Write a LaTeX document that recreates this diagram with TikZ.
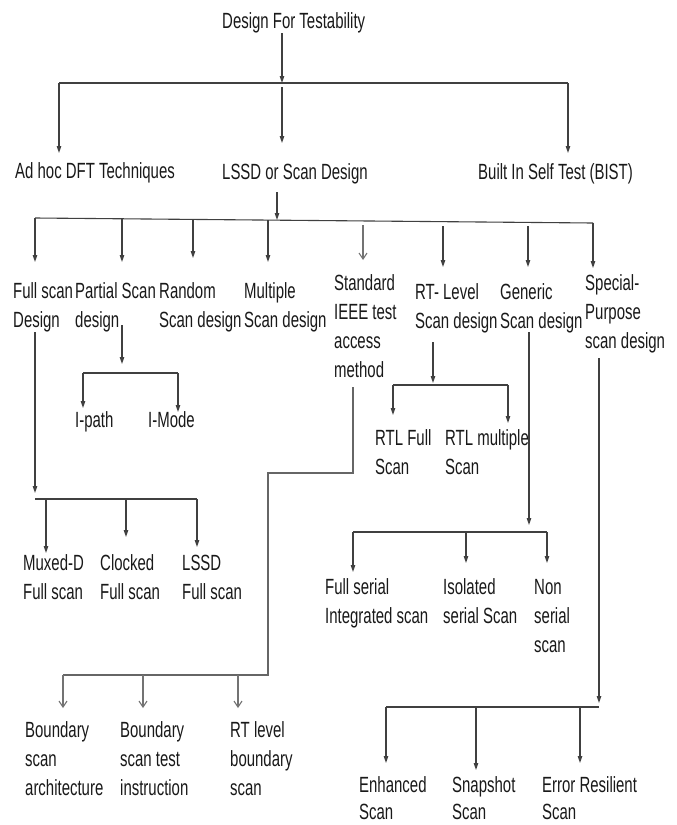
\documentclass[tikz,border=0pt]{standalone}
\usepackage{fontspec}
\setmainfont{Liberation Sans}[FakeStretch=0.68]
\usetikzlibrary{arrows.meta}
\begin{document}
\begin{tikzpicture}[x=1pt,y=-1pt,
  lbl/.style={anchor=north west, inner sep=0pt, align=left, text=black!90,
              font=\fontsize{22}{29}\selectfont},
  lblb/.style={lbl, font=\fontsize{22}{27}\selectfont},
  wire/.style={draw=black!75, line width=1.1pt},
  arr/.style={wire, -{Triangle[length=7pt,width=4.5pt]}},
  openarr/.style={draw=black!55, line width=1.1pt, -{Straight Barb[length=6pt,width=8pt]}},
]
\fill[white] (0,0) rectangle (677,825);
\useasboundingbox (0,0) rectangle (677,825);

% ---------- labels ----------
\node[lbl] (dft)      at (222,7.7)   {\strut Design For Testability};
\node[lbl] (adhoc)    at (15,157.7)  {\strut Ad hoc DFT Techniques};
\node[lbl] (lssd)     at (222,158.7) {\strut LSSD or Scan Design};
\node[lbl] (bist)     at (478,158.7) {\strut Built In Self Test (BIST)};

\node[lbl] (fullscan) at (13,277.7)  {\strut Full scan\\Design};
\node[lbl] (partial)  at (75,277.7)  {\strut Partial Scan\\design};
\node[lbl] (random)   at (159,277.7) {\strut Random\\Scan design};
\node[lbl] (multiple) at (244,277.7) {\strut Multiple\\Scan design};
\node[lbl] (standard) at (334,269.7) {\strut Standard\\IEEE test\\access\\method};
\node[lbl] (rtlevel)  at (415,278.7) {\strut RT- Level\\Scan design};
\node[lbl] (generic)  at (500,278.7) {\strut Generic\\Scan design};
\node[lbl] (special)  at (585,269.7) {\strut Special-\\Purpose\\scan design};

\node[lbl] (ipath)    at (75,406.7)  {\strut I-path};
\node[lbl] (imode)    at (148,406.7) {\strut I-Mode};
\node[lbl] (rtlfull)  at (375,424.7) {\strut RTL Full\\Scan};
\node[lbl] (rtlmulti) at (445,424.7) {\strut RTL multiple\\Scan};

\node[lbl] (muxed)    at (23,549.7)  {\strut Muxed-D\\Full scan};
\node[lbl] (clocked)  at (100,549.7) {\strut Clocked\\Full scan};
\node[lbl] (lssdfull) at (182,549.7) {\strut LSSD\\Full scan};

\node[lbl] (fserial)  at (325,573.7) {\strut Full serial\\Integrated scan};
\node[lbl] (isolated) at (443,573.7) {\strut Isolated\\serial Scan};
\node[lbl] (nonser)   at (534,573.7) {\strut Non\\serial\\scan};

\node[lbl] (barch)    at (25,716.7)  {\strut Boundary\\scan\\architecture};
\node[lbl] (binstr)   at (120,716.7) {\strut Boundary\\scan test\\instruction};
\node[lbl] (rtlbound) at (230,716.7) {\strut RT level\\boundary\\scan};

\node[lblb] (enhanced) at (359,773.1) {\strut Enhanced\\Scan};
\node[lblb] (snapshot) at (452,773.1) {\strut Snapshot\\Scan};
\node[lblb] (errres)   at (542,773.1) {\strut Error Resilient\\Scan};

% ---------- Design For Testability -> three families ----------
\coordinate (s0)  at (282,33);
\coordinate (j0)  at (282,83);
\coordinate (j0m) at (282,87);
\coordinate (j0l) at (59,83);
\coordinate (j0r) at (568,83);
\coordinate (a0)  at (59,153);
\coordinate (a1)  at (282,143);
\coordinate (a2)  at (568,153);
\draw[arr]  (s0) -- (j0);
\draw[wire] (j0l) -- (j0r);
\draw[arr]  (j0l) -- (a0);
\draw[arr]  (j0m) -- (a1);
\draw[arr]  (j0r) -- (a2);

% ---------- LSSD or Scan Design -> scan styles ----------
\coordinate (s1)  at (277,192);
\coordinate (j1)  at (277,220);
\coordinate (j1l) at (35,218);
\coordinate (j1r) at (593,223);
\coordinate (d2)  at (122,219);
\coordinate (d3)  at (193,219);
\coordinate (d4)  at (268,220);
\coordinate (d5)  at (363,225);
\coordinate (d6)  at (443,226);
\coordinate (d7)  at (528,226);
\coordinate (e1)  at (35,262);
\coordinate (e2)  at (122,262);
\coordinate (e3)  at (193,258);
\coordinate (e4)  at (268,262);
\coordinate (e5)  at (363,260);
\coordinate (e6)  at (443,267);
\coordinate (e7)  at (528,267);
\coordinate (e8)  at (593,268);
\draw[arr]  (s1) -- (j1);
\draw[wire] (j1l) -- (j1r);
\draw[arr]  (j1l) -- (e1);
\draw[arr]  (d2) -- (e2);
\draw[arr]  (d3) -- (e3);
\draw[arr]  (d4) -- (e4);
\draw[openarr] (d5) -- (e5);
\draw[arr]  (d6) -- (e6);
\draw[arr]  (d7) -- (e7);
\draw[arr]  (j1r) -- (e8);

% ---------- Partial Scan design ----------
\coordinate (ps)  at (122,325);
\coordinate (pt)  at (122,364);
\coordinate (pl)  at (83,373);
\coordinate (pr)  at (178,373);
\coordinate (pa)  at (83,408);
\coordinate (pb)  at (178,412);
\draw[arr]  (ps) -- (pt);
\draw[wire] (pl) -- (pr);
\draw[arr]  (pl) -- (pa);
\draw[arr]  (pr) -- (pb);

% ---------- Full scan Design ----------
\coordinate (fs)  at (35,332);
\coordinate (ft)  at (35,493);
\coordinate (fl)  at (35,499);
\coordinate (fr)  at (197,499);
\coordinate (f1)  at (46,499);
\coordinate (f2)  at (126,499);
\coordinate (fa)  at (46,553);
\coordinate (fb)  at (126,537);
\coordinate (fc)  at (197,547);
\draw[arr]  (fs) -- (ft);
\draw[wire] (fl) -- (fr);
\draw[arr]  (f1) -- (fa);
\draw[arr]  (f2) -- (fb);
\draw[arr]  (fr) -- (fc);

% ---------- RT- Level Scan design ----------
\coordinate (rs)  at (433,342);
\coordinate (rt)  at (433,383);
\coordinate (rl)  at (393,385);
\coordinate (rr)  at (508,385);
\coordinate (ra)  at (393,415);
\coordinate (rb)  at (508,423);
\draw[arr]  (rs) -- (rt);
\draw[wire] (rl) -- (rr);
\draw[arr]  (rl) -- (ra);
\draw[arr]  (rr) -- (rb);

% ---------- Generic Scan design ----------
\coordinate (gs)  at (529,332);
\coordinate (gt)  at (529,525);
\coordinate (gl)  at (353,532);
\coordinate (gr)  at (547,532);
\coordinate (gm)  at (466,532);
\coordinate (ga)  at (353,572);
\coordinate (gb)  at (466,563);
\coordinate (gc)  at (547,563);
\draw[arr]  (gs) -- (gt);
\draw[wire] (gl) -- (gr);
\draw[arr]  (gl) -- (ga);
\draw[arr]  (gm) -- (gb);
\draw[arr]  (gr) -- (gc);

% ---------- Standard IEEE test access method ----------
\coordinate (is)  at (353,387);
\coordinate (ic1) at (353,473);
\coordinate (ic2) at (268,473);
\coordinate (ir)  at (268,675);
\coordinate (il)  at (63,675);
\coordinate (im)  at (143,675);
\coordinate (in2) at (238,675);
\coordinate (ia)  at (63,708);
\coordinate (ib)  at (143,708);
\coordinate (ib2) at (238,708);
\draw[draw=black!60, line width=1.1pt] (is) -- (ic1) -- (ic2) -- (ir) -- (il);
\draw[openarr] (il) -- (ia);
\draw[openarr] (im) -- (ib);
\draw[openarr] (in2) -- (ib2);

% ---------- Special-Purpose scan design ----------
\coordinate (ss)  at (599,358);
\coordinate (st)  at (599,703);
\coordinate (sl)  at (386,707);
\coordinate (sr)  at (599,707);
\coordinate (sm1) at (476,707);
\coordinate (sm2) at (580,707);
\coordinate (sa)  at (386,763);
\coordinate (sb)  at (476,770);
\coordinate (sc)  at (580,763);
\draw[arr]  (ss) -- (st);
\draw[wire] (sl) -- (sr);
\draw[arr]  (sl) -- (sa);
\draw[arr]  (sm1) -- (sb);
\draw[arr]  (sm2) -- (sc);
\end{tikzpicture}
\end{document}
